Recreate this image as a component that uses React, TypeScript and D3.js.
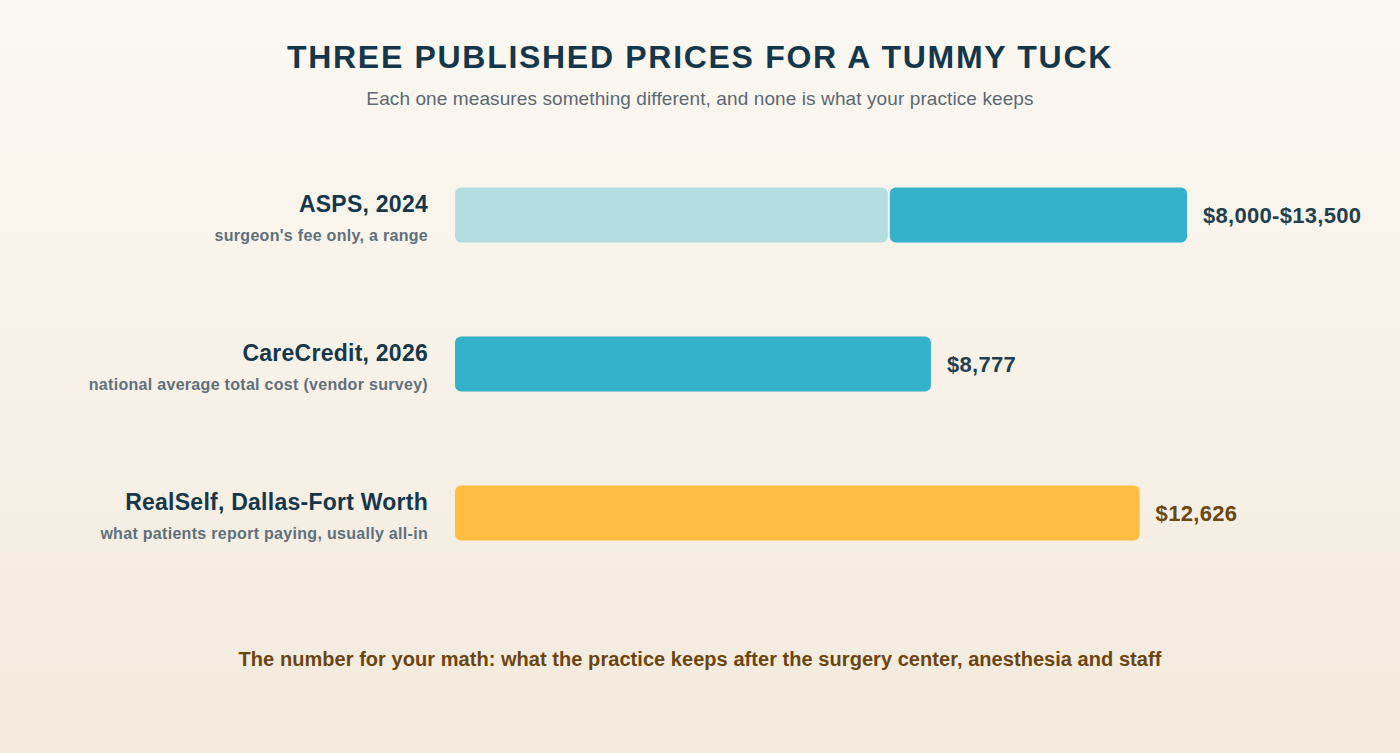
import React, { useEffect, useRef } from 'react';
import * as d3 from 'd3';

// Chart data
const sources = ['ASPS, 2024', 'CareCredit, 2026', 'RealSelf, Dallas-Fort Worth'];
const notes = [
    "surgeon's fee only, a range",
    'national average total cost (vendor survey)',
    'what patients report paying, usually all-in',
];
const lowPrices = [8000, 0, 0];
const highPrices = [13500, 8777, 12626];
const priceLabels = ['$8,000-$13,500', '$8,777', '$12,626'];
const barColors = ['#34b2cc', '#34b2cc', '#ffbe42'];
const priceColors = ['#213f4e', '#213f4e', '#6b4712'];

const W = 1400;
const H = 753;

const App: React.FC = () => {
    const svgRef = useRef<SVGSVGElement>(null);

    useEffect(() => {
        document.body.style.margin = '0';
        if (!svgRef.current) return;

        const svg = d3.select(svgRef.current);
        svg.selectAll('*').remove();

        const font = "'Liberation Sans', Arial, Helvetica, sans-serif";

        // Background gradient
        const defs = svg.append('defs');
        const grad = defs.append('linearGradient')
            .attr('id', 'bg')
            .attr('x1', 0).attr('y1', 0).attr('x2', 0).attr('y2', 1);
        grad.append('stop').attr('offset', '0%').attr('stop-color', '#fbf8f2');
        grad.append('stop').attr('offset', '100%').attr('stop-color', '#f3eadd');
        svg.append('rect').attr('width', W).attr('height', H).attr('fill', 'url(#bg)');

        // Title + subtitle
        svg.append('text')
            .attr('x', W / 2).attr('y', 68)
            .attr('text-anchor', 'middle')
            .attr('font-family', font)
            .attr('font-size', 32)
            .attr('font-weight', 'bold')
            .attr('letter-spacing', 1.7)
            .attr('fill', '#15374b')
            .text('THREE PUBLISHED PRICES FOR A TUMMY TUCK');

        svg.append('text')
            .attr('x', W / 2).attr('y', 105)
            .attr('text-anchor', 'middle')
            .attr('font-family', font)
            .attr('font-size', 19)
            .attr('letter-spacing', 0.1)
            .attr('fill', '#5a6872')
            .text('Each one measures something different, and none is what your practice keeps');

        // Scales
        const x = d3.scaleLinear().domain([0, 13500]).range([455, 1187]);
        const y = d3.scalePoint<string>().domain(sources).range([215, 513]);
        const barH = 55;

        const rows = svg.selectAll('g.row')
            .data(sources)
            .join('g')
            .attr('class', 'row')
            .attr('transform', d => `translate(0,${y(d)})`);

        // Left labels
        rows.append('text')
            .attr('x', 428).attr('y', -3)
            .attr('text-anchor', 'end')
            .attr('font-family', font)
            .attr('font-size', 23)
            .attr('font-weight', 'bold')
            .attr('letter-spacing', 0.25)
            .attr('fill', '#15374b')
            .text(d => d);

        rows.append('text')
            .attr('x', 428).attr('y', 26)
            .attr('text-anchor', 'end')
            .attr('font-family', font)
            .attr('font-size', 16)
            .attr('font-weight', 'bold')
            .attr('letter-spacing', 0.3)
            .attr('fill', '#5f707b')
            .text((d, i) => notes[i]);

        // Light portion (range floor) for ranged rows
        rows.filter((d, i) => lowPrices[i] > 0)
            .append('rect')
            .attr('x', x(0))
            .attr('y', -barH / 2)
            .attr('width', d => x(lowPrices[sources.indexOf(d)]) - x(0) - 1)
            .attr('height', barH)
            .attr('rx', 6)
            .attr('fill', '#b3dde0');

        // Main bar
        rows.append('rect')
            .attr('x', (d, i) => lowPrices[i] > 0 ? x(lowPrices[i]) + 1 : x(0))
            .attr('y', -barH / 2)
            .attr('width', (d, i) => x(highPrices[i]) - (lowPrices[i] > 0 ? x(lowPrices[i]) + 1 : x(0)))
            .attr('height', barH)
            .attr('rx', 6)
            .attr('fill', (d, i) => barColors[i]);

        // Value labels
        rows.append('text')
            .attr('x', (d, i) => x(highPrices[i]) + 16)
            .attr('y', 8)
            .attr('font-family', font)
            .attr('font-size', 22)
            .attr('font-weight', 'bold')
            .attr('letter-spacing', 0.3)
            .attr('fill', (d, i) => priceColors[i])
            .text((d, i) => priceLabels[i]);

        // Footer note
        svg.append('text')
            .attr('x', W / 2).attr('y', 666)
            .attr('text-anchor', 'middle')
            .attr('font-family', font)
            .attr('font-size', 20)
            .attr('font-weight', 'bold')
            .attr('letter-spacing', 0.05)
            .attr('fill', '#6b4510')
            .text('The number for your math: what the practice keeps after the surgery center, anesthesia and staff');
    }, []);

    return <svg ref={svgRef} width={W} height={H} style={{ display: 'block' }} />;
};

export default App;
